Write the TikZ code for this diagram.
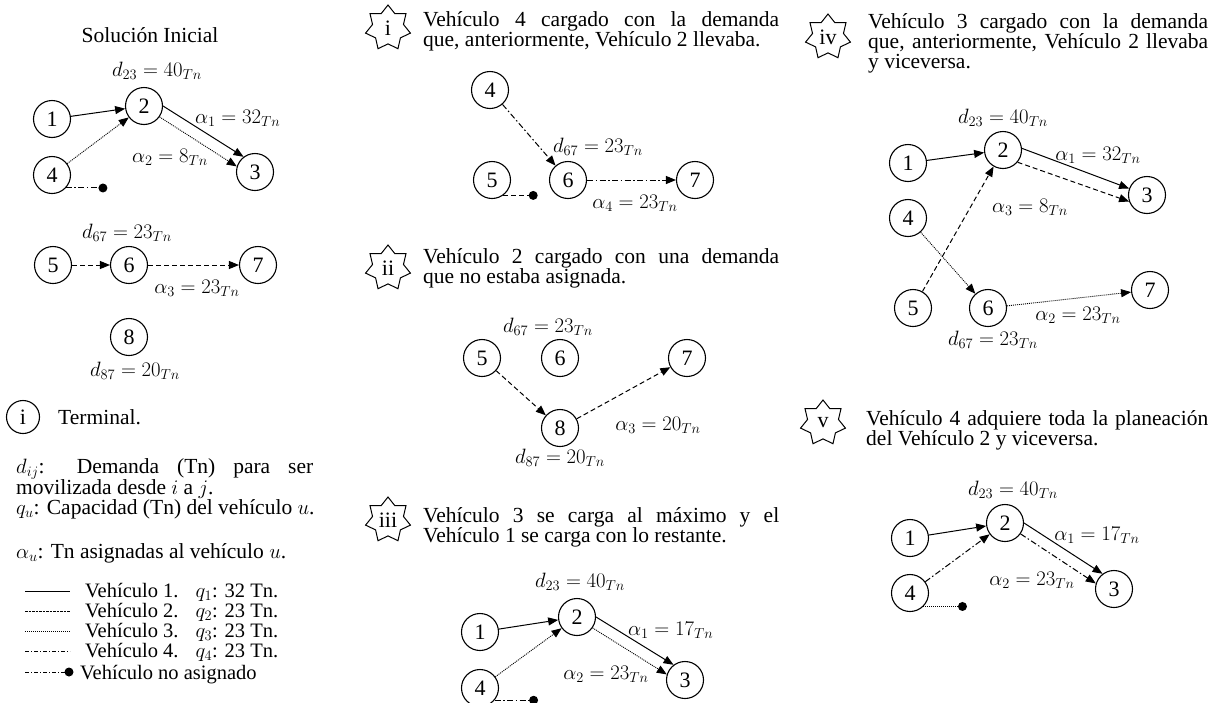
\documentclass[tikz,border=0pt]{standalone}
\usepackage{fontspec}
\setmainfont{Liberation Serif}
\usetikzlibrary{shapes.geometric,arrows.meta}
\tikzset{
  every node/.style={font=\fontsize{21.5}{18.5}\selectfont},
  tn/.style={circle, draw, line width=1.1pt, minimum size=37pt, inner sep=0pt,
    font=\fontsize{22}{22}\selectfont},
  hito/.style={star, star points=7, star point ratio=1.45, draw, line width=1pt,
    minimum size=46pt, inner sep=0pt, font=\fontsize{22}{22}\selectfont},
  punto/.style={circle, fill, minimum size=9pt, inner sep=0pt},
  lbl/.style={inner sep=0pt, font=\fontsize{21}{21}\selectfont},
  txt/.style={align=justify, inner sep=0pt, anchor=base west},
  leyenda/.style={txt, font=\fontsize{21.5}{20}\selectfont},
  fila/.style={txt, font=\fontsize{20.5}{20}\selectfont},
  arr/.style={-{Triangle[length=10pt,width=8pt]}},
  v1/.style={line width=1pt},
  v2/.style={line width=1pt, dash pattern=on 5pt off 3pt},
  v3/.style={line width=0.9pt, dash pattern=on 1pt off 1pt},
  v4/.style={line width=1pt, dash pattern=on 6pt off 2.5pt on 1.5pt off 2.5pt},
}
\begin{document}
\begin{tikzpicture}[x=1pt,y=-1pt]
\fill[white] (0,0) rectangle (1211,702);
\useasboundingbox (0,0) rectangle (1211,702);

% ---------------- Solucion inicial ----------------
\node[inner sep=0pt] (tit) at (150,35) {Solución Inicial};
\node[lbl] (a23) at (157,71) {$d_{23} = 40_{Tn}$};
\node[tn] (a1) at (52,119) {1};
\node[tn] (a2) at (144,106) {2};
\node[tn] (a3) at (255,172) {3};
\node[tn] (a4) at (52,175) {4};
\node[lbl, anchor=west] (aal1) at (195,118) {$\alpha_1 = 32_{Tn}$};
\node[lbl, anchor=east] (aal2) at (208,157) {$\alpha_2 = 8_{Tn}$};
\draw[v1,arr] (a1) -- (a2);
\draw[v3,arr] (a4) -- (a2);
\draw[v1,arr] (a2.0) -- (a3.127);
\draw[v3,arr] (a2.-35) -- (a3.163);
\path (a4.-43) ++(37,0) node[punto] (ap) {};
\draw[v4] (a4.-43) -- (ap.center);

\node[lbl] (a67) at (127,233) {$d_{67} = 23_{Tn}$};
\node[tn] (a5) at (53,265) {5};
\node[tn] (a6) at (129,265) {6};
\node[tn] (a7) at (258,265) {7};
\node[lbl] (aal3) at (197,288) {$\alpha_3 = 23_{Tn}$};
\draw[v2,arr] (a5) -- (a6);
\draw[v2,arr] (a6) -- (a7);
\node[tn] (a8) at (129,337) {8};
\node[lbl] (a87) at (135,371) {$d_{87} = 20_{Tn}$};

% ---------------- Convenciones ----------------
\node[tn, minimum size=33pt] (term) at (23,417) {i};
\node[leyenda] (termt) at (58,424) {Terminal.};
\node[leyenda, text width=297pt] (dij) at (16,473)
  {$d_{ij}$: Demanda (Tn) para ser\linebreak movilizada desde $i$ a $j$.};
\node[leyenda] (qu) at (16,514) {$q_u$: Capacidad (Tn) del vehículo $u$.};
\node[leyenda] (au) at (16,558) {$\alpha_u$: Tn asignadas al vehículo $u$.};

\coordinate (l1a) at (25,591); \coordinate (l1b) at (70,591);
\coordinate (l2a) at (25,611); \coordinate (l2b) at (70,611);
\coordinate (l3a) at (25,631); \coordinate (l3b) at (70,631);
\coordinate (l4a) at (25,651); \coordinate (l4b) at (70,651);
\coordinate (l5a) at (25,672);
\node[punto] (l5p) at (69,672) {};
\draw[v1] (l1a) -- (l1b);
\draw[line width=0.8pt, dash pattern=on 2.5pt off 1pt] (l2a) -- (l2b);
\draw[v3] (l3a) -- (l3b);
\draw[line width=0.8pt, dash pattern=on 4pt off 2pt on 1pt off 2pt] (l4a) -- (l4b);
\draw[line width=0.8pt, dash pattern=on 4pt off 2pt on 1pt off 2pt] (l5a) -- (l5p.center);
\node[fila] (t1) at (85,597) {Vehículo 1.\hspace{0.5em} $q_1$: 32 Tn.};
\node[fila] (t2) at (85,617) {Vehículo 2.\hspace{0.5em} $q_2$: 23 Tn.};
\node[fila] (t3) at (85,637) {Vehículo 3.\hspace{0.5em} $q_3$: 23 Tn.};
\node[fila] (t4) at (85,657) {Vehículo 4.\hspace{0.5em} $q_4$: 23 Tn.};
\node[fila] (t5) at (80,679) {Vehículo no asignado};

% ---------------- Paso i ----------------
\node[hito] (si) at (388,28) {i};
\node[txt, text width=356pt] (xi) at (423,26)
  {Vehículo 4 cargado con la demanda\linebreak que, anteriormente, Vehículo 2 llevaba.};
\node[tn] (b4) at (490,90) {4};
\node[tn] (b5) at (492,180) {5};
\node[tn] (b6) at (568,180) {6};
\node[tn] (b7) at (695,180) {7};
\node[lbl] (b67) at (598,147) {$d_{67} = 23_{Tn}$};
\node[lbl] (bal4) at (635,203) {$\alpha_4 = 23_{Tn}$};
\draw[v4,arr] (b4) -- (b6);
\draw[v4,arr] (b6) -- (b7);
\path (b5.-54) ++(30,0) node[punto] (bp) {};
\draw[v2] (b5.-54) -- (bp.center);

% ---------------- Paso ii ----------------
\node[hito] (sii) at (388,268) {ii};
\node[txt, text width=356pt] (xii) at (423,263)
  {Vehículo 2 cargado con una demanda\linebreak que no estaba asignada.};
\node[lbl] (c67) at (548,327) {$d_{67} = 23_{Tn}$};
\node[tn] (c5) at (482,358) {5};
\node[tn] (c6) at (560,358) {6};
\node[tn] (c7) at (687,358) {7};
\node[tn] (c8) at (560,428) {8};
\node[lbl] (cal3) at (658,425) {$\alpha_3 = 20_{Tn}$};
\node[lbl] (c87) at (560,458) {$d_{87} = 20_{Tn}$};
\draw[v2,arr] (c5) -- (c8);
\draw[v2,arr] (c8) -- (c7);

% ---------------- Paso iii ----------------
\node[hito] (siii) at (388,520) {iii};
\node[txt, text width=356pt] (xiii) at (423,522)
  {Vehículo 3 se carga al máximo y el\linebreak Vehículo 1 se carga con lo restante.};
\node[lbl] (d23) at (580,582) {$d_{23} = 40_{Tn}$};
\node[tn] (d1) at (480,632) {1};
\node[tn] (d2) at (577,617) {2};
\node[tn] (d3) at (685,680) {3};
\node[tn] (d4) at (480,688) {4};
\node[lbl, anchor=west] (dal1) at (628,630) {$\alpha_1 = 17_{Tn}$};
\node[lbl] (dal2) at (606,674) {$\alpha_2 = 23_{Tn}$};
\draw[v1,arr] (d1) -- (d2);
\draw[v3,arr] (d4) -- (d2);
\draw[v1,arr] (d2.0) -- (d3.127);
\draw[v3,arr] (d2.-35) -- (d3.163);
\path (d4.-40) ++(39,0) node[punto] (dp) {};
\draw[v4] (d4.-40) -- (dp.center);

% ---------------- Paso iv ----------------
\node[hito] (siv) at (828,37) {iv};
\node[txt, text width=340pt] (xiv) at (868,28)
  {Vehículo 3 cargado con la demanda\linebreak que, anteriormente, Vehículo 2 llevaba\linebreak y viceversa.};
\node[lbl] (e23) at (1003,118) {$d_{23} = 40_{Tn}$};
\node[tn] (e1) at (908,163) {1};
\node[tn] (e2) at (1003,150) {2};
\node[tn] (e3) at (1147,195) {3};
\node[tn] (e4) at (908,218) {4};
\node[tn] (e5) at (913,308) {5};
\node[tn] (e6) at (988,308) {6};
\node[tn] (e7) at (1150,290) {7};
\node[lbl] (eal1) at (1098,155) {$\alpha_1 = 32_{Tn}$};
\node[lbl] (eal3) at (1030,207) {$\alpha_3 = 8_{Tn}$};
\node[lbl] (eal2) at (1078,315) {$\alpha_2 = 23_{Tn}$};
\node[lbl] (e67) at (993,340) {$d_{67} = 23_{Tn}$};
\draw[v1,arr] (e1) -- (e2);
\draw[v1,arr] (e2.5) -- (e3.160);
\draw[v2,arr] (e2.-40) -- (e3.200);
\draw[v2,arr] (e5) -- (e2);
\draw[v3,arr] (e4) -- (e6);
\draw[v3,arr] (e6) -- (e7);

% ---------------- Paso v ----------------
\node[hito] (sv) at (823,423) {v};
\node[txt, text width=342pt] (xv) at (866,425)
  {Vehículo 4 adquiere toda la planeación\linebreak del Vehículo 2 y viceversa.};
\node[lbl] (f23) at (1013,490) {$d_{23} = 40_{Tn}$};
\node[tn] (f1) at (910,538) {1};
\node[tn] (f2) at (1005,523) {2};
\node[tn] (f3) at (1114,589) {3};
\node[tn] (f4) at (910,593) {4};
\node[lbl] (fal1) at (1097,535) {$\alpha_1 = 17_{Tn}$};
\node[lbl] (fal2) at (1032,580) {$\alpha_2 = 23_{Tn}$};
\draw[v1,arr] (f1) -- (f2);
\draw[v4,arr] (f4) -- (f2);
\draw[v1,arr] (f2.0) -- (f3.127);
\draw[v4,arr] (f2.-35) -- (f3.163);
\path (f4.-45) ++(39,0) node[punto] (fp) {};
\draw[v3] (f4.-45) -- (fp.center);
\end{tikzpicture}
\end{document}
